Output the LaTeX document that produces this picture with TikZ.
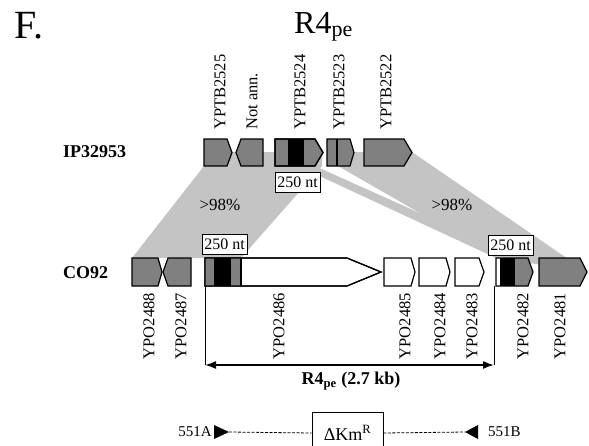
\documentclass[tikz,border=0pt]{standalone}
\usepackage{fontspec}
\setmainfont{Liberation Serif}
\usetikzlibrary{arrows.meta}
\definecolor{genegray}{RGB}{128,128,128}
\definecolor{bandgray}{RGB}{196,196,196}

\begin{document}
\begin{tikzpicture}[x=1pt, y=-1pt, >={Latex[length=11pt,width=8pt]},
	gene/.style={draw=black, line width=1.2pt, fill=genegray},
	band/.style={fill=bandgray},
	genelabel/.style={font=\fontsize{16.5}{16.5}\selectfont, rotate=90, inner sep=1pt},
	ntbox/.style={draw, fill=white, line width=0.7pt, font=\fontsize{16}{16}\selectfont, inner sep=1.5pt, minimum width=45, minimum height=20},
	rowlabel/.style={font=\fontsize{18}{18}\selectfont\bfseries, anchor=base west}]
	\useasboundingbox (0,0) rectangle (589,445);
	\clip (0,0) rectangle (589,445);
	% titles
	\node[anchor=base west, inner sep=0, font=\fontsize{40}{40}\selectfont] (title) at (14,38) {F.};
	\node[anchor=base west, inner sep=0, font=\fontsize{32}{32}\selectfont] (region) at (294,33) {R4\textsubscript{\fontsize{22}{22}\selectfont pe}};
	\node[rowlabel, inner sep=0] (ip) at (63,157) {IP32953};
	\node[rowlabel, inner sep=0] (co) at (63,278) {CO92};
	% homology bands
	\fill[band] (204,152) -- (322,152) -- (322,166) -- (241,258) -- (132,258) -- (204,166) -- cycle;
	\fill[band] (298,166) -- (315,166) -- (520,258) -- (496,258) -- cycle;
	\fill[band] (338,166) -- (354,152) -- (412,152) -- (587,272) -- (498,258) -- cycle;
	\node[font=\fontsize{17}{17}\selectfont] (idL) at (220,205) {>98\%};
	\node[font=\fontsize{17}{17}\selectfont] (idR) at (452,205) {>98\%};
	% IP32953 genes
	\draw[gene] (204,139) -- (227,139) -- (232,152.5) -- (227,166) -- (204,166) -- cycle;
	\draw[gene] (263,139) -- (241,139) -- (236,152.5) -- (241,166) -- (263,166) -- cycle;
	\draw[gene] (275,139) -- (315,139) -- (323,152.5) -- (315,166) -- (275,166) -- cycle;
	\fill[black] (288,139) rectangle (304,166);
	\draw[gene, fill=none] (275,139) -- (315,139) -- (323,152.5) -- (315,166) -- (275,166) -- cycle;
	\draw[gene] (327,139) -- (350,139) -- (354,152.5) -- (350,166) -- (327,166) -- cycle;
	\draw[line width=1.1pt] (337,139) -- (337,166);
	\draw[gene] (364,139) -- (404,139) -- (412,152.5) -- (404,166) -- (364,166) -- cycle;
	\foreach \x/\t in {220/YPTB2525, 252/Not ann., 300/YPTB2524, 339/YPTB2523, 386/YPTB2522}
		{\node[genelabel, anchor=west] at (\x,131) {\t};}
	% CO92 genes
	\draw[gene] (132,258) -- (158,258) -- (162,272) -- (158,286) -- (132,286) -- cycle;
	\draw[gene] (191,258) -- (168,258) -- (163,272) -- (168,286) -- (191,286) -- cycle;
	\draw[gene, fill=white] (205,258) -- (347,258) -- (381,272) -- (347,286) -- (205,286) -- cycle;
	\fill[genegray] (205,258) rectangle (241,286);
	\fill[black] (214,258) rectangle (231,286);
	\draw[gene, fill=none] (205,258) -- (347,258) -- (381,272) -- (347,286) -- (205,286) -- cycle;
	\draw[line width=1.1pt] (241,258) -- (241,286);
	\foreach \a/\b/\c in {384/411/415, 419/446/450, 455/479/484}
		{\draw[gene, fill=white] (\a,258) -- (\b,258) -- (\c,272) -- (\b,286) -- (\a,286) -- cycle;}
	\fill[genegray] (500,258) -- (528,258) -- (533,272) -- (528,286) -- (500,286) -- cycle;
	\fill[black] (500,258) rectangle (515,286);
	\draw[gene, fill=none] (496,258) -- (528,258) -- (533,272) -- (528,286) -- (496,286) -- cycle;
	\draw[gene] (539,258) -- (580,258) -- (587,272) -- (580,286) -- (539,286) -- cycle;
	\foreach \x/\t in {149/YPO2488, 181/YPO2487, 279/YPO2486, 405/YPO2485, 440/YPO2484, 472/YPO2483, 523/YPO2482, 560/YPO2481}
		{\node[genelabel, anchor=east] at (\x,292) {\t};}
	% 250 nt boxes
	\node[ntbox] (ntI) at (297.5,182.5) {250 nt};
	\node[ntbox] (ntL) at (224.5,244) {250 nt};
	\node[ntbox] (ntR) at (510.5,245) {250 nt};
	% R4pe extent
	\coordinate (r4top) at (205,286);
	\coordinate (r4end) at (494,286);
	\coordinate (r4L) at (205,365);
	\coordinate (r4R) at (494,365);
	\draw[line width=1pt] (r4top) -- (r4L);
	\draw[line width=1pt] (r4end) -- (r4R);
	\draw[<->, line width=1.6pt] (r4L) -- (r4R);
	\node[font=\fontsize{18}{18}\selectfont\bfseries] (r4lab) at (351,381) {R4\textsubscript{pe} (2.7 kb)};
	% deletion construct
	\node[draw, line width=0.8pt, minimum width=71, minimum height=42, font=\fontsize{18}{18}\selectfont] (km) at (347.5,433) {ΔKm\textsuperscript{R}};
	\fill (214,425) -- (229,432) -- (214,439) -- cycle;
	\fill (478,425) -- (465,432) -- (478,439) -- cycle;
	\coordinate (tipA) at (229,432);
	\coordinate (tipB) at (465,432);
	\node[anchor=east, inner sep=1pt, font=\fontsize{15}{15}\selectfont] (pA) at (213,432) {551A};
	\node[anchor=west, inner sep=1pt, font=\fontsize{15}{15}\selectfont] (pB) at (487,432) {551B};
	\draw[dash pattern=on 3pt off 1.5pt, line width=0.8pt] (tipA) -- (km.west);
	\draw[dash pattern=on 3pt off 1.5pt, line width=0.8pt] (km.east) -- (tipB);
\end{tikzpicture}
\end{document}
